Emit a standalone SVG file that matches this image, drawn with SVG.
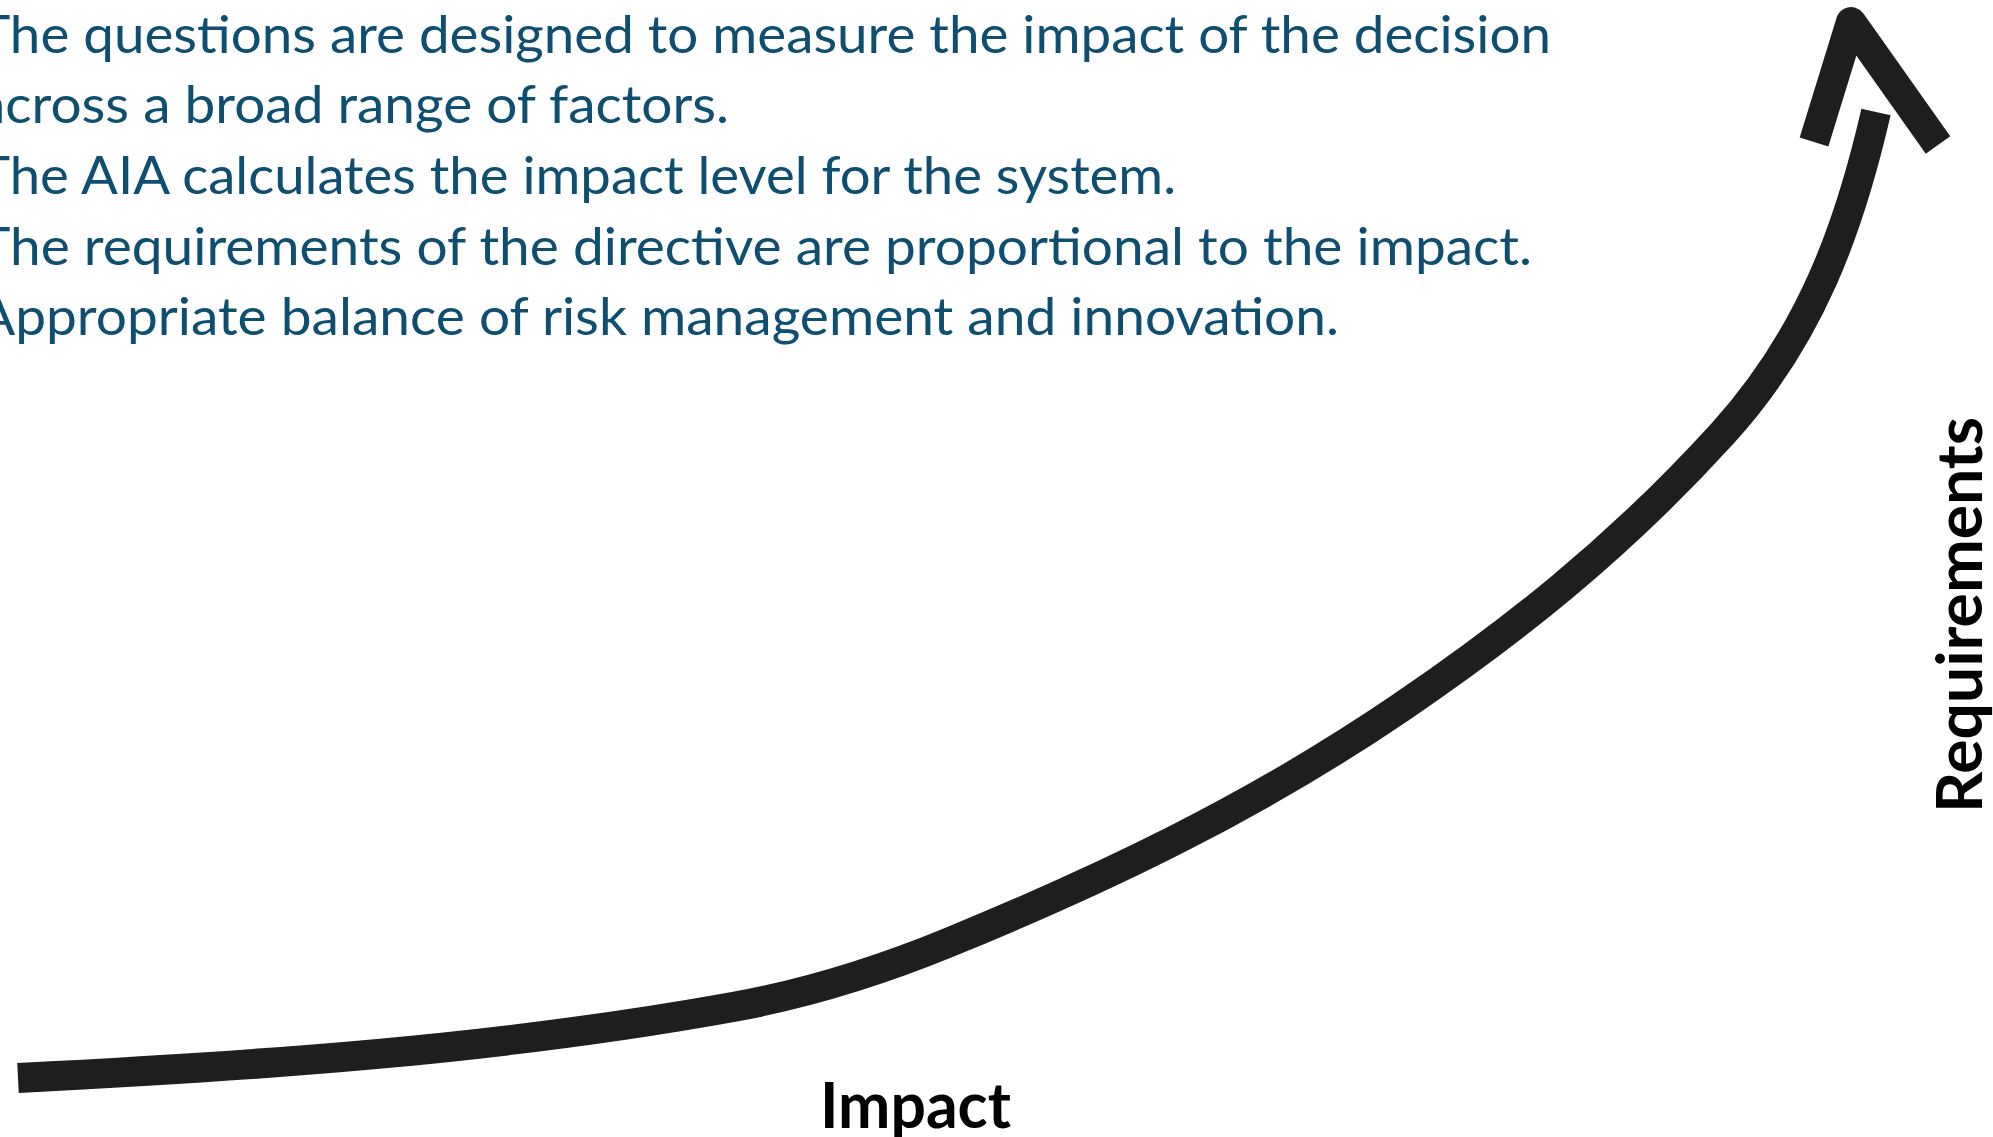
<svg xmlns="http://www.w3.org/2000/svg" width="1993" height="1137" viewBox="0 0 1993 1137">
  <style>
    .body { font-family: Lato, "Open Sans", "Liberation Sans", sans-serif; font-size: 52px; fill: #0e4e70; }
    .axis { font-family: Lato, "Liberation Sans", sans-serif; font-size: 64px; font-weight: 700; fill: #000000; }
    .stroke { fill: none; stroke: #1e1e1e; stroke-width: 30; stroke-linecap: butt; }
  </style>
  <rect width="1993" height="1137" fill="#ffffff"/>
  <g id="bullets">
    <text class="body" x="-22" y="53" textLength="1573" lengthAdjust="spacingAndGlyphs">The questions are designed to measure the impact of the decision</text>
    <text class="body" x="-22" y="123" textLength="751" lengthAdjust="spacingAndGlyphs">across a broad range of factors.</text>
    <text class="body" x="-22" y="194" textLength="1198" lengthAdjust="spacingAndGlyphs">The AIA calculates the impact level for the system.</text>
    <text class="body" x="-22" y="265" textLength="1554" lengthAdjust="spacingAndGlyphs">The requirements of the directive are proportional to the impact.</text>
    <text class="body" x="-22" y="335" textLength="1361" lengthAdjust="spacingAndGlyphs">Appropriate balance of risk management and innovation.</text>
  </g>
  <g id="connectors">
    <path class="stroke" d="M18,1078 C256,1066 495,1050 733,1007 C805,994 878,971.6 950,942 C1100,880.5 1250,810 1400,708 C1507.7,634.8 1615.3,551.5 1723,433 C1812,335 1850,225 1876,112"/>
    <polyline class="stroke" stroke-linejoin="round" points="1814,142 1851,22 1938,145"/>
  </g>
  <g id="label-impact">
    <text class="axis" x="820" y="1128" textLength="191" lengthAdjust="spacingAndGlyphs">Impact</text>
  </g>
  <g id="label-requirements">
    <text class="axis" transform="translate(1982,813) rotate(-90)" x="0" y="0" textLength="396" lengthAdjust="spacingAndGlyphs">Requirements</text>
  </g>
</svg>
